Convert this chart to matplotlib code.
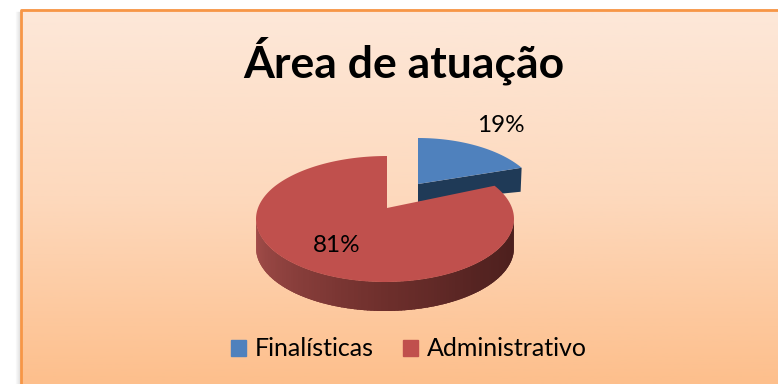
import numpy as np
import matplotlib.pyplot as plt
from matplotlib.colors import LinearSegmentedColormap
from matplotlib.patches import Patch

# chart values
title = "Área de atuação"
categories = ["Finalísticas", "Administrativo"]
values = [19, 81]
colors = ["#4f81bd", "#c0504d"]

# look of the fake 3d pie (pixels)
rx, ry = 129, 63
depth = 29
skew = 0.85  # perspective squeezes the small slice

plt.rcParams['font.family'] = ['Lato', 'DejaVu Sans']

fig = plt.figure(figsize=(7.78, 3.84), dpi=100, facecolor='white')
ax = fig.add_axes([0, 0, 1, 1])
ax.axis('off')

# background gradient and frame
grad = LinearSegmentedColormap.from_list('bg', ['#fde8d9', '#fdd9bd', '#fdbf8c'])
ax.imshow(np.linspace(0, 1, 256).reshape(-1, 1), cmap=grad, aspect='auto',
          extent=(21, 778, 384, 9), zorder=0)
ax.set_xlim(0, 778)
ax.set_ylim(384, 0)
for i in range(1, 6):  # soft shadow left of the frame
    ax.plot([21 - i, 21 - i], [12, 384], color='gray', alpha=0.22 - i * 0.035, lw=1, zorder=0.5)
ax.plot([21.5, 21.5, 778], [384, 9.5, 9.5], color='#f79646', lw=2, zorder=1)


def point(cx, cy, theta, r=rx):
    # theta runs clockwise from the top of the ellipse
    t = np.radians(theta)
    return cx + r * np.sin(t), cy - ry * np.cos(t)


split = values[0] / sum(values) * 360 * skew

# blue slice, pulled out to the upper right
bcx, bcy, brx = 418, 201, 122
bax, bay = 418, 184
th = np.linspace(0, split, 40)
bx, by = point(bcx, bcy, th, brx)
cx_end, cy_end = bx[-1], by[-1]
ax.fill([bax, cx_end, cx_end - 1, bax], [bay, cy_end, cy_end + 24, bay + 18], color='#1f3a57', lw=0, zorder=2)
ax.fill(np.r_[bax, bx], np.r_[bay, by], color=colors[0], lw=0, zorder=3)

# red slice
rcx, rcy = 385, 219
rax, ray = 387, 208
th = np.linspace(split, 360, 200)
x, y = point(rcx, rcy, th)
x = x + (th > 300) * (th - 300) / 60 * 2

# red rim, dark to the right
rim = LinearSegmentedColormap.from_list('rim', ['#4a1e1c', '#562422', '#6e2f2c', '#8a3f3c', '#a64f4b'])
seg = np.linspace(90, 270, 121)
for a, b in zip(seg[:-1], seg[1:]):
    # overlap the next strip a little so no seams show
    xa, ya = point(rcx, rcy, a)
    xb, yb = point(rcx, rcy, min(b + 2, 270))
    ax.fill([xa, xb, xb, xa], [ya, yb, yb + depth, ya + depth],
            color=rim((a - 90) / 180), lw=0, zorder=4)
ax.fill(np.r_[rax, x], np.r_[ray, y], color=colors[1], lw=0, zorder=5)

# slice labels
ax.text(501, 126, f"{values[0]}%", ha='center', va='center', fontsize=17.5, color='black', zorder=6)
ax.text(337, 245, f"{values[1]}%", ha='center', va='center', fontsize=17.5, color='black', zorder=6)

ax.text(404, 61, title, ha='center', va='center', fontsize=32, fontweight='bold', color='black', zorder=6)

handles = [Patch(color=c, label=n) for c, n in zip(colors, categories)]
leg = ax.legend(handles=handles, ncol=2, frameon=False, fontsize=18, loc='center',
                bbox_to_anchor=(409 / 778, 1 - 349 / 384), bbox_transform=fig.transFigure,
                handlelength=0.6, handleheight=0.6, handletextpad=0.35, columnspacing=1.15,
                borderpad=0, labelcolor='black')

fig.savefig('out.png', dpi=100)
